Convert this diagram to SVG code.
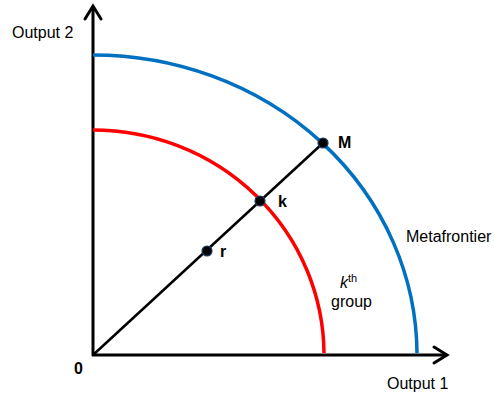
<svg xmlns="http://www.w3.org/2000/svg" width="494" height="394" viewBox="0 0 494 394">
<style>
text{font-family:"Liberation Sans",Arial,sans-serif;font-size:16px;fill:#000}
.b{font-weight:bold}
.ax{stroke:#000;stroke-width:3;fill:none}
.arr{stroke:#000;stroke-width:3;fill:none;stroke-linecap:round;stroke-linejoin:miter}
.dot{fill:#000;stroke:#1f3864;stroke-width:1.2}
</style>
<rect width="494" height="394" fill="#fff"/>
<g id="connectors">
<path class="ax" d="M93,356 V6"/>
<path class="arr" d="M85,19 L93,6 L101,19"/>
<path class="ax" d="M92,355 H447"/>
<path class="arr" d="M434,347 L447,355 L434,363"/>
<path d="M93,355 L323,143" stroke="#000" stroke-width="2.5" fill="none"/>
</g>
<g id="metafrontier">
<path d="M93,55 A324,300 0 0 1 417,353" stroke="#0070C0" stroke-width="3.5" fill="none"/>
<text x="406" y="242">Metafrontier</text>
</g>
<g id="group-frontier">
<path d="M93,130 A231,225 0 0 1 324,353" stroke="#FF0000" stroke-width="3.5" fill="none"/>
<text x="340" y="288"><tspan font-style="italic">k</tspan><tspan font-size="11" dy="-6">th</tspan></text>
<text x="331" y="307">group</text>
</g>
<g id="M"><circle class="dot" cx="323" cy="143" r="5"/><text class="b" x="338" y="148">M</text></g>
<g id="k"><circle class="dot" cx="260" cy="201" r="5"/><text class="b" x="278" y="207">k</text></g>
<g id="r"><circle class="dot" cx="207" cy="251" r="5"/><text class="b" x="220" y="257">r</text></g>
<g id="origin"><text class="b" x="74" y="374">0</text></g>
<g id="output2"><text x="12" y="38">Output 2</text></g>
<g id="output1"><text x="387" y="389">Output 1</text></g>
</svg>
